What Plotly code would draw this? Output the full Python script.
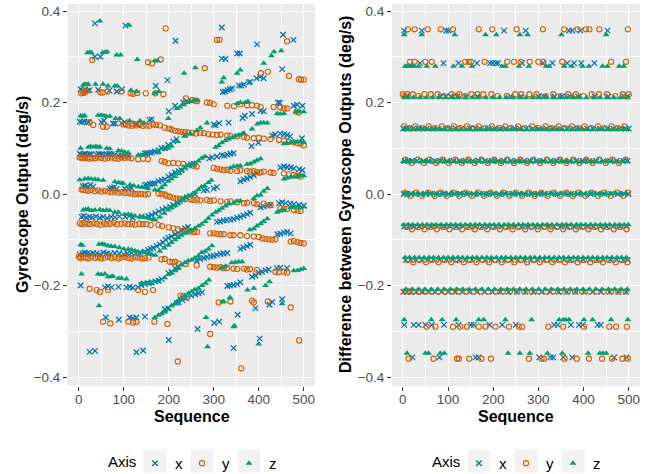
import plotly.graph_objects as go

# ---------------- data ----------------
axis_names = ["x", "y", "z"]
legend_title = "Axis"
x_ticks = [0, 100, 200, 300, 400, 500]
y_ticks = [-0.4, -0.2, 0.0, 0.2, 0.4]
y_tick_text = ["\u22120.4", "\u22120.2", "0.0", "0.2", "0.4"]

# Left panel: gyroscope output, (sequence, deg/s)
left_x = [
 (36,.373),(104,.368),
 (36,.300),(48,.300),(215,.335),(318,.364),
 (4,.229),(9,.226),(14,.228),(20,.226),(24,.227),(43,.228),(68,.226),(84,.224),(96,.229),(171,.236),(197,.249),
 (318,.296),(326,.295),(352,.307),(358,.307),(396,.327),(454,.348),(477,.337),
 (2,.158),(7,.157),(12,.159),(17,.156),(22,.157),(50,.157),(56,.160),(76,.154),(81,.154),(95,.155),(102,.157),
 (125,.153),(130,.153),(157,.162),(162,.163),(200,.181),(214,.193),(232,.200),(240,.203),(320,.223),(325,.224),
 (331,.227),(336,.229),(341,.231),(356,.237),(362,.237),(367,.239),(378,.244),(381,.245),(395,.253),(403,.256),
 (411,.253),(452,.273),
 (2,.088),(6,.086),(10,.087),(14,.088),(19,.086),(24,.087),(28,.087),(39,.086),(44,.088),(50,.087),(55,.086),
 (62,.087),(68,.088),(73,.087),(80,.086),(88,.084),(95,.083),(102,.084),(110,.083),(147,.089),(152,.089),
 (158,.090),(163,.091),(169,.093),(177,.096),(184,.100),(191,.101),(199,.107),(210,.115),(217,.120),(236,.130),
 (300,.152),(304,.150),(312,.155),(333,.156),(364,.166),(369,.171),(385,.175),(404,.182),(411,.181),(443,.200),
 (447,.199),(478,.193),(485,.195),(497,.193),
 (9,.017),(14,.018),(20,.016),(26,.020),(32,.016),(69,.012),(74,.013),(79,.015),(84,.011),(102,.012),(110,.012),
 (117,.013),(147,.020),(152,.020),(158,.022),(164,.023),(169,.023),(177,.028),(184,.030),(191,.032),(199,.038),
 (206,.042),(214,.047),(222,.050),(228,.052),(236,.058),(243,.062),(250,.065),(256,.066),(290,.078),(296,.080),
 (307,.082),(318,.085),(323,.084),(330,.086),(337,.088),(344,.089),(384,.105),(399,.112),(430,.128),(436,.130),
 (448,.132),(456,.131),(463,.129),(470,.126),(496,.122),
 (6,-.050),(11,-.048),(17,-.052),(24,-.050),(30,-.051),(38,-.049),(47,-.052),(54,-.050),(63,-.053),(72,-.050),
 (80,-.051),(90,-.049),(103,-.050),(112,-.048),(120,-.052),(140,-.049),(155,-.048),(162,-.046),(170,-.042),
 (178,-.038),(186,-.034),(194,-.031),(203,-.028),(210,-.024),(218,-.019),(225,-.015),(232,-.012),(240,-.007),
 (258,.000),(278,.008),(285,.009),(300,.012),(307,.015),(359,.028),(367,.032),(374,.034),(381,.037),(389,.041),
 (396,.045),(448,.058),(456,.060),(463,.059),(471,.058),(478,.056),(490,.054),(497,.052),
 (2,-.132),(8,-.130),(13,-.128),(19,-.130),(25,-.131),(32,-.129),(40,-.130),(47,-.132),(55,-.128),(62,-.130),
 (70,-.131),(80,-.129),(90,-.130),(100,-.132),(108,-.130),(117,-.129),(127,-.131),(135,-.130),(147,-.126),
 (154,-.122),(160,-.120),(166,-.118),(173,-.114),(180,-.110),(187,-.106),(193,-.100),(199,-.096),(206,-.093),
 (214,-.088),(221,-.085),(228,-.080),(236,-.075),(243,-.072),(307,-.061),(314,-.060),(322,-.058),(329,-.057),
 (337,-.056),(344,-.055),(352,-.052),(359,-.050),(366,-.047),(374,-.044),(381,-.041),(404,-.029),(411,-.027),
 (419,-.025),(426,-.024),(445,-.020),(452,-.018),(460,-.020),(470,-.021),(478,-.022),(490,-.024),(500,-.025),
 (4,-.200),(58,-.204),(65,-.202),(73,-.204),(88,-.203),(106,-.204),(113,-.203),(120,-.205),(132,-.204),
 (139,-.199),(147,-.197),(155,-.195),(162,-.193),(170,-.191),(177,-.190),(184,-.186),(199,-.173),(206,-.170),
 (214,-.162),(221,-.158),(262,-.146),(270,-.142),(278,-.140),(285,-.138),(293,-.136),(300,-.135),(307,-.133),
 (315,-.131),(322,-.130),(330,-.129),(359,-.120),(366,-.117),(374,-.114),(381,-.111),(441,-.088),(448,-.087),
 (456,-.084),(463,-.083),(471,-.086),
 (60,-.270),(89,-.275),(113,-.270),(120,-.272),(128,-.270),(147,-.268),(191,-.252),(199,-.250),(218,-.238),
 (222,-.237),(230,-.232),(238,-.228),(250,-.222),(259,-.219),(266,-.217),(274,-.215),(330,-.201),(336,-.200),
 (344,-.199),(352,-.197),(359,-.193),(385,-.181),(393,-.178),(400,-.172),(407,-.170),(415,-.167),(422,-.165),
 (440,-.162),(448,-.161),(463,-.162),
 (24,-.345),(36,-.343),(128,-.346),(143,-.342),(200,-.319),(264,-.295),(301,-.282),(312,-.279),(353,-.264),
 (393,-.250),(424,-.242),(430,-.236),(452,-.230),(344,-.337),(402,-.316),
]

left_y = [
 (193,.362),(307,.337),(313,.337),(463,.334),
 (30,.293),(154,.288),(163,.285),(182,.294),(280,.275),(405,.264),(420,.267),(467,.258),(489,.251),(494,.250),(500,.250),
 (5,.220),(10,.221),(13,.222),(17,.225),(48,.222),(53,.222),(64,.224),(95,.224),(115,.220),(121,.219),(130,.221),
 (149,.220),(170,.220),(188,.218),(238,.209),(252,.205),(259,.204),(263,.203),(285,.200),(292,.199),(300,.196),
 (330,.193),(345,.192),(359,.196),(374,.194),(385,.194),(396,.193),(404,.190),(433,.190),(448,.189),(456,.187),
 (463,.187),(484,.180),(489,.178),
 (24,.157),(32,.151),(54,.147),(62,.147),(99,.152),(104,.152),(110,.150),(118,.149),(120,.154),(128,.150),
 (135,.151),(142,.149),(150,.150),(157,.149),(165,.152),(172,.151),(180,.150),(191,.145),(200,.143),(206,.141),
 (214,.138),(221,.137),(228,.136),(236,.135),(243,.134),(252,.133),(260,.132),(270,.134),(278,.133),(288,.131),
 (297,.130),(307,.129),(315,.130),(330,.128),(337,.127),(352,.126),(367,.125),(374,.123),(389,.122),(400,.123),
 (411,.121),(426,.120),(445,.118),(456,.117),(467,.114),(478,.113),(486,.111),(493,.110),(500,.106),
 (2,.080),(6,.079),(10,.080),(14,.078),(19,.080),(24,.077),(29,.079),(36,.078),(43,.080),(50,.079),(58,.077),
 (65,.079),(73,.080),(80,.078),(88,.077),(95,.080),(102,.079),(110,.080),(117,.078),(132,.076),(143,.077),
 (154,.076),(184,.072),(191,.070),(199,.067),(210,.068),(221,.067),(232,.066),(255,.062),(262,.060),(300,.057),
 (307,.055),(315,.054),(322,.052),(330,.053),(337,.051),(352,.050),(359,.052),(374,.050),(381,.049),(389,.050),
 (396,.048),(404,.047),(411,.049),(426,.047),(433,.046),(456,.045),(467,.043),(478,.042),(486,.040),(493,.038),
 (6,.010),(10,.009),(15,.008),(21,.007),(28,.009),(36,.006),(43,.008),(50,.005),(58,.007),(65,.005),(73,.004),
 (80,.006),(88,.003),(95,.004),(102,.002),(110,.003),(117,.001),(125,.000),(132,.001),(139,.000),(147,-.001),
 (154,.000),(177,.001),(184,.000),(191,-.001),(195,-.004),(202,-.006),(210,-.008),(217,-.010),(225,-.010),
 (236,-.011),(248,-.012),(255,-.013),(263,-.012),(270,-.014),(285,-.013),(292,-.015),(300,-.014),(315,-.016),
 (330,-.017),(337,-.016),(352,-.018),(367,-.020),(374,-.019),(389,-.020),(396,-.022),(411,-.021),(426,-.024),
 (448,-.031),(456,-.032),(463,-.033),(478,-.035),(486,-.036),(493,-.037),
 (2,-.064),(7,-.066),(12,-.063),(18,-.065),(25,-.066),(33,-.064),(40,-.065),(48,-.067),(56,-.064),(62,-.066),
 (70,-.065),(78,-.063),(85,-.066),(95,-.065),(102,-.064),(110,-.066),(118,-.065),(125,-.067),(135,-.065),
 (142,-.066),(150,-.066),(160,-.068),(177,-.068),(185,-.070),(200,-.073),(210,-.075),(220,-.077),(233,-.080),
 (240,-.081),(248,-.082),(256,-.083),(263,-.083),(292,-.086),(300,-.086),(307,-.087),(315,-.088),(322,-.088),
 (337,-.090),(344,-.090),(359,-.090),(374,-.092),(389,-.093),(400,-.094),(408,-.097),(415,-.098),(422,-.099),
 (430,-.100),(437,-.099),(471,-.104),(478,-.103),(486,-.105),(493,-.107),(500,-.108),
 (0,-.137),(4,-.140),(9,-.138),(15,-.139),(21,-.141),(28,-.137),(36,-.140),(43,-.138),(50,-.141),(58,-.139),
 (65,-.137),(73,-.140),(80,-.138),(88,-.141),(95,-.139),(103,-.137),(110,-.140),(117,-.141),(125,-.138),
 (132,-.139),(140,-.141),(147,-.140),(155,-.139),(184,-.143),(191,-.142),(202,-.148),(208,-.149),(214,-.148),
 (222,-.152),(238,-.153),(262,-.156),(292,-.159),(300,-.160),(307,-.161),(315,-.160),(322,-.162),(330,-.161),
 (344,-.163),(352,-.164),(367,-.163),(374,-.165),(381,-.164),(396,-.166),(437,-.170),(445,-.171),(456,-.170),
 (463,-.172),
 (24,-.207),(40,-.210),(47,-.214),(65,-.210),(132,-.210),(147,-.214),(165,-.210),(226,-.222),(232,-.224),
 (241,-.226),(311,-.237),(337,-.235),(385,-.233),(389,-.237),(420,-.235),(471,-.248),
 (54,-.279),(70,-.283),(110,-.279),(121,-.281),(128,-.280),(168,-.279),(197,-.284),(292,-.306),(490,-.320),
 (220,-.366),(361,-.381),
]

left_z = [
 (47,.378),(112,.369),
 (19,.309),(24,.310),(28,.309),(53,.309),(58,.310),(63,.311),(84,.304),(93,.304),(130,.294),(169,.291),(175,.291),
 (10,.238),(14,.240),(18,.239),(21,.240),(37,.240),(54,.240),(65,.236),(80,.236),(86,.236),(116,.227),(128,.224),
 (169,.220),(178,.224),(234,.264),(259,.276),
 (4,.171),(8,.170),(13,.171),(43,.172),(50,.172),(56,.171),(61,.170),(69,.170),(82,.165),(91,.165),(113,.160),
 (136,.160),(145,.155),(199,.165),(218,.187),(225,.190),(233,.195),(241,.200),(248,.202),(256,.205),(263,.205),
 (318,.245),(322,.254),(352,.264),(359,.271),(411,.286),(428,.302),(434,.311),(450,.313),
 (4,.100),(21,.102),(26,.104),(32,.103),(38,.104),(43,.102),(47,.103),(62,.100),(69,.099),(88,.095),(95,.094),
 (102,.092),(110,.090),(132,.085),(138,.085),(143,.085),(177,.090),(191,.098),(199,.100),(206,.105),(220,.115),
 (235,.126),(248,.132),(262,.138),(270,.145),(285,.155),(352,.198),(359,.200),(370,.200),(376,.202),
 (2,.031),(13,.033),(21,.034),(28,.033),(36,.032),(43,.031),(54,.030),(80,.027),(88,.025),(95,.024),(99,.023),
 (114,.020),(122,.018),(132,.016),(140,.015),(147,.014),(154,.012),(169,.009),(177,.008),(184,.014),(191,.020),
 (199,.028),(206,.033),(214,.038),(222,.045),(229,.052),(236,.057),(243,.062),(251,.064),(258,.068),(266,.072),
 (273,.078),(280,.082),(304,.102),(311,.106),(318,.112),(326,.117),(333,.120),(341,.123),(348,.127),(356,.129),
 (363,.131),(367,.133),(385,.142),(397,.153),(404,.156),(411,.156),(419,.155),(441,.176),(448,.175),(456,.176),
 (482,.180),(490,.181),(500,.180),
 (10,-.035),(15,-.034),(21,-.033),(28,-.036),(36,-.035),(47,-.034),(54,-.036),(62,-.035),(69,-.036),(80,-.040),
 (88,-.040),(102,-.045),(110,-.044),(117,-.046),(125,-.048),(135,-.050),(143,-.050),(150,-.052),(158,-.054),
 (165,-.056),(170,-.057),(180,-.050),(190,-.042),(199,-.035),(206,-.030),(214,-.025),(221,-.020),(228,-.013),
 (236,-.008),(243,-.004),(250,-.002),(258,.003),(266,.010),(273,.016),(280,.018),(288,.025),(295,.030),
 (337,.057),(344,.060),(352,.061),(359,.062),(374,.065),(381,.066),(389,.070),(396,.074),(404,.077),(456,.110),
 (463,.111),(471,.113),(478,.113),(486,.114),(493,.115),(500,.113),
 (4,-.111),(8,-.112),(45,-.110),(52,-.109),(58,-.111),(65,-.113),(72,-.114),(80,-.115),(90,-.117),(100,-.120),
 (110,-.121),(117,-.122),(125,-.124),(132,-.126),(140,-.127),(147,-.128),(155,-.130),(162,-.132),(170,-.134),
 (180,-.125),(190,-.118),(199,-.112),(206,-.106),(214,-.100),(221,-.095),(228,-.090),(236,-.086),(243,-.082),
 (250,-.079),(258,-.075),(266,-.070),(273,-.066),(281,-.060),(288,-.053),(296,-.046),(304,-.040),(311,-.036),
 (318,-.031),(326,-.026),(333,-.022),(344,-.020),(352,-.016),(359,-.015),(389,-.010),(396,-.004),(404,-.002),
 (411,.006),(419,.012),(456,.033),(463,.035),(471,.037),(478,.037),(486,.038),(493,.040),(500,.040),
 (6,-.175),(43,-.175),(50,-.176),(58,-.175),(65,-.181),(72,-.181),(76,-.180),(88,-.184),(95,-.184),(106,-.186),
 (139,-.195),(147,-.195),(155,-.195),(162,-.196),(177,-.190),(191,-.183),(199,-.176),(206,-.173),(214,-.168),
 (221,-.163),(228,-.155),(236,-.150),(243,-.146),(251,-.144),(258,-.140),(266,-.135),(273,-.128),(281,-.125),
 (288,-.120),(296,-.113),(380,-.078),(389,-.076),(396,-.070),(404,-.065),(411,-.060),(419,-.054),(441,-.040),
 (448,-.037),(456,-.035),(471,-.030),(478,-.029),(486,-.028),(493,-.030),(500,-.028),
 (45,-.244),(169,-.270),(177,-.265),(184,-.262),(191,-.258),(199,-.252),(206,-.244),(213,-.240),(222,-.232),
 (229,-.228),(236,-.222),(244,-.217),(251,-.213),(258,-.209),(266,-.206),(274,-.200),(282,-.195),(289,-.188),
 (318,-.162),(326,-.158),(340,-.150),(348,-.149),(355,-.148),(363,-.148),
 (283,-.270),(319,-.236),(322,-.235),(336,-.226),(375,-.210),(389,-.206),(415,-.200),(424,-.192),(478,-.168),
 (486,-.167),(493,-.165),(500,-.163),
 (286,-.334),(344,-.290),(346,-.288),(400,-.328),(452,-.240),
]

# Right panel: differences between outputs, rows of (value, [sequence...])
right_x_rows = [
 (0.357, [3,42,96,101,224,272,368,375,393,453]),
 (0.286, [38,90,123,164,193,199,206,211,264,310,331,364,379,395,424]),
 (0.213, [8,84,95,106,120,140,165,238,262,300,312,336,353,370,388,425,455,490,497]),
 (0.143, [1,8,14,23,35,44,53,68,77,95,104,117,130,148,160,171,189,203,214,228,246,259,273,288,301,318,332,349,363,377,392,408,421,437,452,466,481,494,500]),
 (0.072, [4,12,20,31,46,57,71,83,98,112,126,139,155,168,182,197,211,224,239,253,268,282,296,311,327,341,356,369,384,399,413,428,444,459,473,488,497]),
 (0.000, [2,10,18,27,39,50,61,75,89,101,115,128,142,157,170,185,199,213,227,242,256,270,285,299,314,329,343,358,372,387,401,416,430,446,461,476,490,499]),
 (-0.071, [3,13,24,36,49,62,76,90,104,118,133,147,161,176,190,205,219,234,248,263,277,292,306,321,335,350,364,379,393,408,422,437,451,466,480,495]),
 (-0.144, [6,17,29,42,55,68,82,96,110,124,139,153,168,182,196,211,226,240,255,269,284,298,313,328,342,357,371,386,400,415,430,444,459,473,488,498]),
 (-0.214, [1,9,18,30,44,58,72,86,100,115,131,147,164,181,199,216,234,252,271,289,307,326,345,363,382,401,420,439,458,477,494]),
 (-0.286, [3,24,35,50,64,91,123,151,157,192,220,250,335,343,372,390,398,431,438]),
 (-0.357, [21,81,161,168,302,327,333,355,375,468,495]),
]
right_y_rows = [
 (0.360, [11,26,55,84,111,168,198,252,310,357,387,405,413,435,498]),
 (0.289, [16,26,50,64,138,146,151,181,231,246,261,281,300,311,353,461,494]),
 (0.218, [0,10,22,48,62,77,108,125,152,165,178,196,249,262,280,296,333,366,383,418,434,452,487,500]),
 (0.214, [4,35,90,118,138,210,230,316,350,400,470]),
 (0.148, [3,28,57,86,113,142,168,197,227,255,286,316,345,374,402,432,462,491]),
 (0.144, [15,41,70,99,127,154,183,213,240,270,300,330,359,388,417,447,476]),
 (0.075, [6,33,59,88,116,145,174,202,231,260,289,319,348,377,406,435,464,493]),
 (0.068, [19,47,74,102,131,159,188,217,246,275,304,333,362,391,420,449,478]),
 (0.003, [5,30,56,84,111,139,166,194,222,250,278,306,334,362,390,418,446,474,498]),
 (-0.004, [16,43,70,97,125,153,180,208,236,264,292,320,348,376,404,432,460,488]),
 (-0.072, [8,34,61,89,117,145,173,201,229,257,285,313,341,369,397,425,453,481]),
 (-0.077, [20,48,75,103,131,159,187,215,243,271,299,327,355,383,411,439,467,495]),
 (-0.144, [10,37,65,93,121,149,177,205,233,261,289,317,345,373,401,429,457,485]),
 (-0.149, [23,51,79,107,135,163,191,219,247,275,303,331,359,387,415,443,471,497]),
 (-0.213, [5,14,22,34,48,63,78,94,110,125,141,157,173,189,205,221,237,253,269,285,301,317,333,349,365,381,397,413,429,445,461,477,493]),
 (-0.290, [53,72,111,127,142,168,183,205,235,257,264,322,355,401,457,472,496]),
 (-0.360, [13,68,120,124,147,174,195,279,307,313,358,385,412,441,463,486,498]),
]
right_z_rows = [
 (0.348, [3,42,115,183,207,259,276,351,450]),
 (0.279, [5,10,15,20,25,35,53,72,112,131,153,220,227,257,279,317,324,357,374,398,412,442,453,479,489]),
 (0.211, [3,12,24,38,52,66,80,95,110,124,139,154,169,184,199,214,229,244,258,273,288,303,318,333,348,362,377,392,407,422,437,452,467,482,497]),
 (0.141, [2,11,21,31,40,51,62,72,84,94,105,117,128,139,150,161,173,184,195,206,218,229,240,251,263,274,285,296,308,319,330,341,353,364,375,386,398,409,420,431,443,454,465,476,488,498]),
 (0.071, [1,9,19,29,41,50,60,71,83,92,103,114,126,137,147,158,170,181,192,204,214,226,237,249,260,271,283,294,305,316,328,339,350,361,373,384,395,406,418,429,440,452,463,474,486,497]),
 (0.001, [4,13,23,33,44,54,65,76,87,97,108,119,130,141,152,163,174,185,196,207,218,229,240,251,262,273,284,295,306,317,328,339,350,361,372,383,394,405,416,427,438,449,460,471,482,493]),
 (-0.067, [2,12,22,33,43,53,64,74,85,96,106,117,128,138,149,160,170,181,192,202,213,224,234,245,256,266,277,288,298,309,320,330,341,352,362,373,384,394,405,416,426,437,448,458,469,480,490,499]),
 (-0.139, [5,15,26,36,47,58,68,79,90,100,111,122,132,143,154,164,175,186,196,207,218,228,239,250,260,271,282,292,303,314,324,335,346,356,367,378,388,399,410,420,431,442,452,463,474,484,495]),
 (-0.208, [7,21,35,49,63,77,91,105,119,133,147,161,175,189,203,217,231,245,259,273,287,301,315,329,343,357,371,385,399,413,427,441,455,469,483,497]),
 (-0.275, [3,63,87,118,168,179,227,285,346,355,361,368,401,420,461,498]),
 (-0.348, [9,50,57,83,92,233,259,281,320,353,410,436,443,450]),
]

# ---------------- styling ----------------
COLORS = {"x": "#0072B2", "y": "#D55E00", "z": "#009E73"}
MARKERS = {
    "x": dict(symbol="x-thin", size=5.5, color=COLORS["x"], line=dict(width=1.25, color=COLORS["x"])),
    "y": dict(symbol="circle-open", size=5.2, color=COLORS["y"], line=dict(width=1.1, color=COLORS["y"])),
    "z": dict(symbol="triangle-up", size=6, color=COLORS["z"], line=dict(width=0)),
}

W, H = 655, 474
ML, MR, MT, MB = 68, 15, 4, 88
PW, PH = W - ML - MR, H - MT - MB

def pxx(px):
    return (px - ML) / PW

def pxy(py):
    return (H - MB - py) / PH

left_series = {"x": left_x, "y": left_y, "z": left_z}
right_series = {"x": right_x_rows, "y": right_y_rows, "z": right_z_rows}

fig = go.Figure()
for name in axis_names:
    pts = left_series[name]
    fig.add_trace(go.Scatter(
        x=[p[0] for p in pts], y=[p[1] for p in pts], mode="markers", name=name,
        marker=MARKERS[name], xaxis="x", yaxis="y", legend="legend", hoverinfo="skip"))
for name in axis_names:
    xs, ys = [], []
    for val, seqs in right_series[name]:
        for s in seqs:
            xs.append(s)
            ys.append(val)
    fig.add_trace(go.Scatter(
        x=xs, y=ys, mode="markers", name=name,
        marker=MARKERS[name], xaxis="x2", yaxis="y2", legend="legend2", hoverinfo="skip"))

y_range = [-(H - MB - 194) / 457.5, (194 - MT) / 457.5]

axis_common = dict(
    showgrid=True, gridcolor="white", gridwidth=1.1, zeroline=False, showline=False,
    ticks="outside", ticklen=4, tickwidth=1, tickcolor="#333333",
    tickfont=dict(size=13.5, color="#4D4D4D"),
)
xa = dict(axis_common, range=[-24, 525], tickmode="array", tickvals=x_ticks,
          ticktext=[str(t) for t in x_ticks], ticklabelstandoff=-3,
          minor=dict(tickmode="array", tickvals=[50, 150, 250, 350, 450], showgrid=True,
                     gridcolor="white", gridwidth=0.55, ticks=""))
ya = dict(axis_common, range=y_range, tickmode="array", tickvals=y_ticks, ticktext=y_tick_text,
          minor=dict(tickmode="array", tickvals=[-0.3, -0.1, 0.1, 0.3], showgrid=True,
                     gridcolor="white", gridwidth=0.55, ticks=""))

legend_common = dict(
    orientation="h", xanchor="left", yanchor="top", y=pxy(447),
    font=dict(size=15, color="black"), entrywidth=2, entrywidthmode="pixels",
    bgcolor="rgba(0,0,0,0)", borderwidth=0,
)

shapes = []
for cx in [155, 202, 249, 479, 526, 573]:
    shapes.append(dict(type="rect", xref="paper", yref="paper",
                       x0=pxx(cx - 11.5), x1=pxx(cx + 11.5), y0=pxy(472.5), y1=pxy(449.5),
                       fillcolor="#F2F2F2", line=dict(width=0), layer="below"))

title_font = dict(size=16, color="black", family="Liberation Sans, Arial, sans-serif")
legend_font = dict(size=15, color="black", family="Liberation Sans, Arial, sans-serif")
annotations = [
    dict(text="<b>Sequence</b>", x=pxx(191.5), y=pxy(416.5), xref="paper", yref="paper",
         showarrow=False, font=title_font, xanchor="center", yanchor="middle"),
    dict(text="<b>Sequence</b>", x=pxx(516), y=pxy(416.5), xref="paper", yref="paper",
         showarrow=False, font=title_font, xanchor="center", yanchor="middle"),
    dict(text="<b>Gyroscope Output (deg/s)</b>", x=pxx(22), y=pxy(195), xref="paper", yref="paper",
         showarrow=False, font=title_font, textangle=-90, xanchor="center", yanchor="middle"),
    dict(text="<b>Difference between Gyroscope Outputs (deg/s)</b>", x=pxx(345), y=pxy(195),
         xref="paper", yref="paper", showarrow=False, font=title_font, textangle=-90,
         xanchor="center", yanchor="middle"),
    dict(text=legend_title, x=pxx(106), y=pxy(461), xref="paper", yref="paper",
         showarrow=False, font=legend_font, xanchor="left", yanchor="middle"),
    dict(text=legend_title, x=pxx(430), y=pxy(461), xref="paper", yref="paper",
         showarrow=False, font=legend_font, xanchor="left", yanchor="middle"),
]

fig.update_layout(
    width=W, height=H,
    margin=dict(l=ML, r=MR, t=MT, b=MB, autoexpand=False),
    paper_bgcolor="white", plot_bgcolor="#EBEBEB",
    font=dict(family="Liberation Sans, Arial, sans-serif", size=13.5, color="#4D4D4D"),
    xaxis=dict(xa, domain=[pxx(68), pxx(315)], anchor="y"),
    yaxis=dict(ya, domain=[0, 1], anchor="x"),
    xaxis2=dict(xa, domain=[pxx(392), pxx(640)], anchor="y2"),
    yaxis2=dict(ya, domain=[0, 1], anchor="x2"),
    legend=dict(legend_common, x=pxx(135)),
    legend2=dict(legend_common, x=pxx(459)),
    shapes=shapes, annotations=annotations,
    showlegend=True, hovermode=False,
)

fig.write_html("out.html", config={"displayModeBar": False},
               post_script="document.body.style.margin='0';")
